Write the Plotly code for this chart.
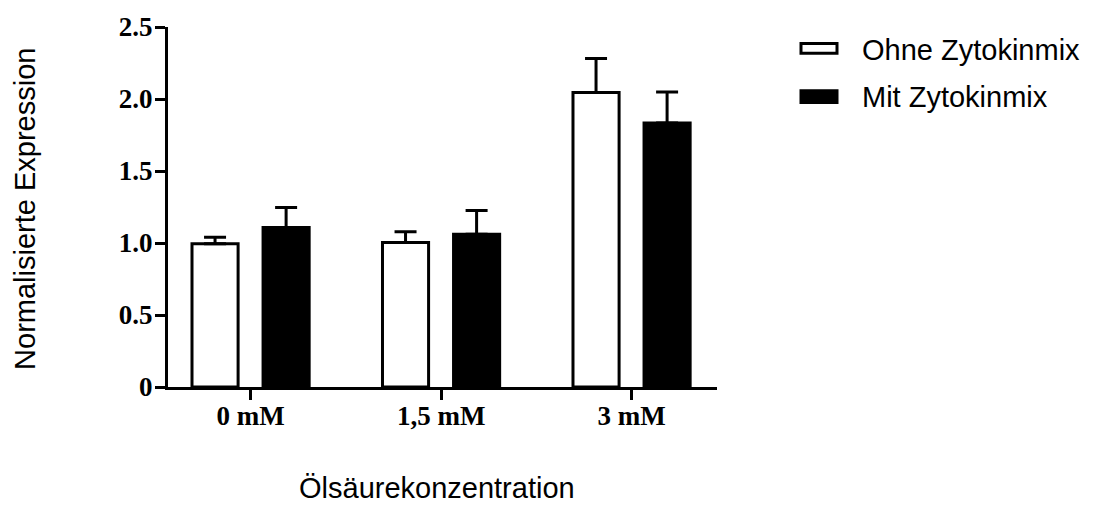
import plotly.graph_objects as go

categories = ["0 mM", "1,5 mM", "3 mM"]
series_names = ["Ohne Zytokinmix", "Mit Zytokinmix"]
ohne_values = [0.995, 1.003, 2.046]
ohne_errors = [0.045, 0.075, 0.235]
mit_values = [1.107, 1.060, 1.834]
mit_errors = [0.140, 0.165, 0.215]
y_tickvals = [0, 0.5, 1.0, 1.5, 2.0, 2.5]
y_ticktext = ["0", "0.5", "1.0", "1.5", "2.0", "2.5"]

W, H = 1097, 506
L, R, T, B = 168, 717, 15, 387  # plot area in pixels
pw, ph = R - L, B - T

def px_x(x):
    return (x - L) / pw

def px_y(y):
    return (B - y) / ph

x_idx = list(range(len(categories)))

fig = go.Figure()
fig.add_trace(go.Bar(
    x=x_idx, y=ohne_values, name=series_names[0],
    width=0.242, offset=-0.308,
    marker=dict(color="white", line=dict(color="black", width=3)),
    error_y=dict(type="data", array=ohne_errors, arrayminus=[0] * 3, symmetric=False,
                 color="black", thickness=3, width=11),
    showlegend=False,
))
fig.add_trace(go.Bar(
    x=x_idx, y=mit_values, name=series_names[1],
    width=0.242, offset=0.065,
    marker=dict(color="black", line=dict(color="black", width=3)),
    error_y=dict(type="data", array=mit_errors, arrayminus=[0] * 3, symmetric=False,
                 color="black", thickness=3, width=11),
    showlegend=False,
))

tick_font = dict(family="Liberation Serif", size=27, color="black", weight="bold")
title_font = dict(family="Liberation Sans", size=29, color="black")

fig.update_layout(
    width=W, height=H,
    margin=dict(l=L, r=W - R, t=T, b=H - B, pad=0),
    plot_bgcolor="white", paper_bgcolor="white",
    xaxis=dict(
        range=[-0.434, 2.448], tickvals=x_idx, ticktext=categories,
        showline=True, linecolor="black", linewidth=3,
        ticks="outside", ticklen=10, tickwidth=3, tickcolor="black",
        showgrid=False, zeroline=False, tickfont=tick_font, fixedrange=True,
        ticklabelstandoff=-7,
    ),
    yaxis=dict(
        range=[0, 2.5], tickvals=y_tickvals, ticktext=y_ticktext,
        showline=True, linecolor="black", linewidth=3,
        ticks="outside", ticklen=10, tickwidth=3, tickcolor="black",
        showgrid=False, zeroline=False, tickfont=tick_font, fixedrange=True,
        ticklabelstandoff=-3, ticklabeloverflow="allow",
    ),
    showlegend=False,
)

# axis titles
fig.add_annotation(text="Normalisierte Expression", xref="paper", yref="paper",
                   x=px_x(25), y=px_y(203), textangle=-90, showarrow=False,
                   xanchor="center", yanchor="middle", font=title_font)
fig.add_annotation(text="Ölsäurekonzentration", xref="paper", yref="paper",
                   x=px_x(437), y=px_y(491), showarrow=False,
                   xanchor="center", yanchor="middle", font=title_font)

# custom legend
legend_rows = [
    dict(name=series_names[0], fill="white", y0=32, y1=42, ty=39),
    dict(name=series_names[1], fill="black", y0=81, y1=93, ty=87),
]
for row in legend_rows:
    fig.add_shape(type="rect", xref="paper", yref="paper",
                  x0=px_x(801), x1=px_x(837), y0=px_y(row["y1"]), y1=px_y(row["y0"]),
                  fillcolor=row["fill"], line=dict(color="black", width=3))
    fig.add_annotation(text=row["name"], xref="paper", yref="paper",
                       x=px_x(860), y=px_y(row["ty"]), showarrow=False,
                       xanchor="left", yanchor="middle", font=title_font)

fig.write_html("out.html", config={"displayModeBar": False},
               post_script="document.body.style.margin='0';document.body.style.overflow='hidden';")
